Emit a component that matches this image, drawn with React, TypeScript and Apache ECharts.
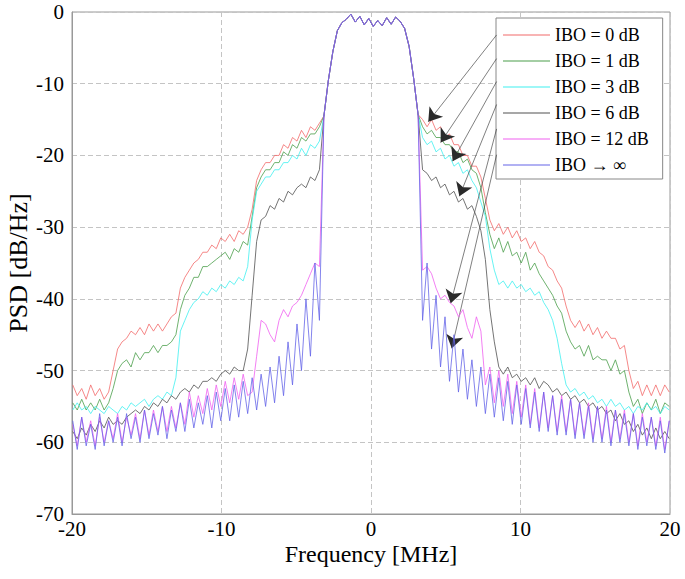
import React, { useEffect, useRef } from "react";
import * as echarts from "echarts";

// Frequency sampling grid (MHz)
const freq = [
  -19.95, -19.65, -19.35, -19.05, -18.75, -18.45, -18.15, -17.85, -17.55, -17.25,
  -16.95, -16.65, -16.35, -16.05, -15.75, -15.45, -15.15, -14.85, -14.55, -14.25,
  -13.95, -13.65, -13.35, -13.05, -12.75, -12.45, -12.15, -11.85, -11.55, -11.25,
  -10.95, -10.65, -10.35, -10.05, -9.75, -9.45, -9.15, -8.85, -8.55, -8.25,
  -7.95, -7.65, -7.35, -7.05, -6.75, -6.45, -6.15, -5.85, -5.55, -5.25,
  -4.95, -4.65, -4.35, -4.05, -3.75, -3.45,
  -3.15, -2.85, -2.55, -2.25, -1.95, -1.65, -1.35, -1.05, -0.75, -0.45, -0.15,
  0.15, 0.45, 0.75, 1.05, 1.35, 1.65, 1.95, 2.25, 2.55, 2.85, 3.15,
  3.45, 3.75, 4.05, 4.35, 4.65, 4.95, 5.25, 5.55, 5.85, 6.15,
  6.45, 6.75, 7.05, 7.35, 7.65, 7.95, 8.25, 8.55, 8.85, 9.15,
  9.45, 9.75, 10.05, 10.35, 10.65, 10.95, 11.25, 11.55, 11.85, 12.15,
  12.45, 12.75, 13.05, 13.35, 13.65, 13.95, 14.25, 14.55, 14.85, 15.15,
  15.45, 15.75, 16.05, 16.35, 16.65, 16.95, 17.25, 17.55, 17.85, 18.15,
  18.45, 18.75, 19.05, 19.35, 19.65, 19.95,
];

// Shared main lobe (-3.15 .. 3.15 MHz), dB/Hz
const mainLobe = [
  -14.5, -9.5, -5.5, -2.6, -1.5, -1.0, -0.3, -1.4, -0.6, -1.8, -0.9,
  -2.0, -1.2, -1.9, -0.8, -1.7, -0.7, -1.3, -2.3, -4.8, -9.2, -14.3,
];

// IBO = 0 dB
const redLeft = [
  -52, -53.5, -52.5, -54, -52, -53.5, -52.5, -54, -53, -50,
  -47, -46, -45.5, -44.5, -45, -44, -45, -43.5, -44.5, -43.5,
  -44.5, -43.5, -42.5, -42, -38.5, -37, -36, -35, -34.5, -33.5,
  -33.5, -32.5, -33, -31.5, -32, -31, -32, -30.5, -31, -30,
  -27.5, -23.5, -22, -21, -21, -20, -20, -18.5, -19, -17.5,
  -18, -16.5, -17.5, -16, -16.5, -15.5,
];
const redRight = [
  -15, -16, -15, -16.5, -16, -17.5, -17, -18.5, -18.5, -20,
  -20, -21.5, -21.5, -23, -26, -29, -30.5, -29.5, -31, -30,
  -31.5, -30.5, -32, -31.5, -33, -32, -33.5, -34, -35.5, -36,
  -37.5, -38.5, -41, -43, -44, -43, -44.5, -43.5, -45, -44,
  -45.5, -44.5, -45.5, -45.5, -47, -46.5, -50, -52.5, -51.5, -53.5,
  -52, -53.5, -52, -53.5, -52, -53,
];

// IBO = 1 dB
const greenLeft = [
  -54.5, -55.5, -54, -55.5, -54.5, -55.5, -54, -55.5, -54.5, -52.5,
  -50, -49, -48.5, -49.5, -47.5, -48.5, -47.5, -47.5, -46.5, -47.5,
  -46.5, -46.5, -46, -45, -41.5, -39.5, -38.5, -37, -37, -35.5,
  -35.5, -35, -34.5, -34, -33.5, -34.5, -33, -33.5, -32, -32.5,
  -28.5, -24.5, -23, -22, -22, -21, -21, -19.5, -20, -18.5,
  -19, -17.5, -18, -17, -17, -16,
];
const greenRight = [
  -16, -17, -16.5, -17.5, -17.5, -18.5, -18.5, -19.5, -19.5, -21,
  -20.5, -22, -22.5, -24.5, -28, -31, -33, -31.5, -33.5, -32,
  -34, -33.5, -35, -33.5, -36, -35, -36.5, -37.5, -38.5, -39.5,
  -41, -42, -44.5, -46, -47, -46.5, -48, -46.5, -48.5, -48,
  -48.5, -48.5, -50, -48.5, -50.5, -50, -53, -55, -54, -56,
  -54.5, -55.5, -54, -56, -54.5, -55,
];

// IBO = 3 dB
const cyanLeft = [
  -55.5, -54.5, -55.5, -55, -56, -55, -55.5, -56, -55, -55.5,
  -56, -55, -55.5, -54.5, -55, -54.5, -54, -55, -54, -53.5,
  -54, -53, -53.5, -51, -44.5, -43, -41.5, -40.5, -40, -39,
  -39.5, -38.5, -39, -38, -38.5, -37.5, -38, -37, -37.5, -35.5,
  -29, -25, -24, -23, -23, -22, -22, -21, -21, -20,
  -20.5, -19, -20, -18.5, -19, -18,
];
const cyanRight = [
  -17.5, -18.5, -18, -19.5, -19, -20.5, -20, -21.5, -21, -22.5,
  -22, -23.5, -24.5, -26.5, -28.5, -33, -36, -38, -37.5, -38.5,
  -37.5, -38.5, -38, -39, -38.5, -39.5, -39, -40.5, -41.5, -43,
  -45.5, -49, -52, -53, -52.5, -53.5, -53, -54, -53.5, -54.5,
  -54, -55, -54, -55, -54.5, -55.5, -55, -56, -55, -55.5,
  -54.5, -55.5, -55, -56, -55, -55.5,
];

// IBO = 6 dB
const blackLeft = [
  -58.5, -59.5, -58, -59, -57.5, -58.5, -57, -58, -56.5, -57.5,
  -57, -57.5, -56.5, -56, -55.5, -56, -55, -55.5, -54.5, -55,
  -54, -54.5, -53.5, -54, -53, -52.5, -53, -52, -52.5, -51.5,
  -51.5, -51, -51.5, -50.5, -50, -50.5, -49.5, -50, -50, -47,
  -39.5, -32, -29, -28.5, -27, -27.5, -26, -26.5, -25, -25.5,
  -24.5, -24, -24.5, -23, -23.5, -22,
];
const blackRight = [
  -22, -22.5, -23.5, -23, -24.5, -24, -25.5, -25, -26.5, -26,
  -27.5, -27, -28.5, -30.5, -34.5, -41.5, -46, -49.5, -50.5, -49.5,
  -51, -50.5, -51.5, -51, -52, -51, -52.5, -51.5, -52, -53,
  -52.5, -53.5, -53, -54, -53.5, -54.5, -54, -55, -54.5, -55.5,
  -55, -56, -55.5, -57, -56, -57.5, -57, -58.5, -57.5, -59,
  -58, -59.5, -58, -59.5, -58.5, -59.5,
];

// IBO = 12 dB
const magentaLeft = [
  -57.5, -60.5, -56.5, -60, -57, -60.5, -56.5, -60, -57, -59.5,
  -56, -60, -56.5, -59, -56, -59.5, -55.5, -59, -55.5, -58.5,
  -55, -58.5, -55, -58, -54.5, -57.5, -53, -56.5, -53.5, -56,
  -52.5, -55.5, -52, -55, -51.5, -54.5, -51, -54, -50.5, -53.5,
  -53, -48, -43, -43.5, -45, -46, -43, -41.5, -42.5, -41,
  -40.5, -39.5, -38, -36.5, -35, -35.5,
];
const magentaRight = [
  -36, -35.5, -36.5, -38.5, -40, -39.5, -40.5, -41, -42.5, -41.5,
  -44, -45.5, -42.5, -44.5, -52, -49.5, -54.5, -50, -55, -50.5,
  -56, -51.5, -56.5, -52, -57.5, -52.5, -58, -53, -58, -53.5,
  -58.5, -53.5, -58.5, -54, -59, -54.5, -59, -54.5, -59.5, -55,
  -59.5, -55, -60, -55.5, -59.5, -55.5, -60, -56, -60.5, -56,
  -60, -56.5, -60.5, -56.5, -61, -57,
];

// IBO -> infinity
const blueLeft = [
  -57, -61, -56.5, -60.5, -57.5, -61, -56, -60.5, -57, -60,
  -56.5, -60.5, -56, -59.5, -56.5, -60, -55.5, -59.5, -56, -59,
  -55, -59.5, -55.5, -58.5, -54.5, -58.5, -54, -58, -54.5, -57.5,
  -53.5, -58, -53, -57, -52.5, -57, -52, -56.5, -51.5, -56,
  -51, -55.5, -50.5, -55, -49.5, -54.5, -48, -53.5, -46, -52,
  -43.5, -50, -40, -48, -35, -43,
];
const blueRight = [
  -43, -35, -47, -39.5, -49.5, -42.5, -51.5, -45, -53, -47,
  -54, -48.5, -55, -49.5, -56, -50.5, -56.5, -51, -57, -51.5,
  -57.5, -52, -57.5, -52.5, -58, -53, -58.5, -53, -58.5, -53.5,
  -59, -54, -59, -54, -59.5, -54.5, -59.5, -55, -60, -55,
  -60, -55.5, -60.5, -55.5, -60, -56, -60.5, -56, -61, -56.5,
  -60.5, -56.5, -61, -57, -61.5, -57,
];

const seriesNames = ["IBO = 0 dB", "IBO = 1 dB", "IBO = 3 dB", "IBO = 6 dB", "IBO = 12 dB", "IBO \u2192 \u221e"];
const seriesColors = ["#f26a6a", "#4a9e4a", "#3ff0f0", "#505050", "#f060f0", "#6464e8"];
const seriesLeft = [redLeft, greenLeft, cyanLeft, blackLeft, magentaLeft, blueLeft];
const seriesRight = [redRight, greenRight, cyanRight, blackRight, magentaRight, blueRight];

// Annotation arrows (data coordinates): from legend edge to curve
const arrowFrom = [[8.4, -3.2], [8.4, -6.5], [8.4, -9.7], [8.4, -12.9], [8.4, -16.3], [8.4, -19.9]];
const arrowTo = [[3.83, -15.3], [4.66, -18.2], [5.46, -20.8], [5.91, -25.7], [5.33, -40.6], [5.4, -46.9]];

const FONT = "'Liberation Serif', 'Times New Roman', serif";

function buildData(left: number[], right: number[]) {
  const ys = [...left, ...mainLobe, ...right];
  return freq.map((f, i) => [f, ys[i]]);
}

export default function App() {
  const ref = useRef<HTMLDivElement>(null);
  useEffect(() => {
    if (!ref.current) return;
    const chart = echarts.init(ref.current, null, { renderer: "svg" });
    const series = seriesNames.map((name, i) => ({
      name,
      type: "line",
      data: buildData(seriesLeft[i], seriesRight[i]),
      symbol: "none",
      silent: true,
      lineStyle: { color: seriesColors[i], width: 0.8 },
      itemStyle: { color: seriesColors[i] },
      z: 2 + i,
      markLine: {
        silent: true,
        symbol: ["none", "arrow"],
        symbolSize: 13,
        label: { show: false },
        lineStyle: { color: "#2a2a2a", width: 0.6, type: "solid" },
        data: [[{ coord: arrowFrom[i] }, { coord: arrowTo[i] }]],
      },
    }));
    chart.setOption({
      animation: false,
      backgroundColor: "#fff",
      grid: {
        left: 72,
        right: 15,
        top: 12,
        bottom: 65,
        show: true,
        borderColor: "#999",
        borderWidth: 1,
        outerBoundsMode: "none",
        containLabel: false,
      },
      legend: {
        data: seriesNames,
        orient: "vertical",
        left: 496,
        top: 18,
        padding: [8, 14, 5, 7],
        itemGap: 8,
        itemWidth: 47,
        itemHeight: 14,
        icon: "path://M0,0H47V1H0Z",
        selectedMode: false,
        backgroundColor: "#fff",
        borderColor: "#888",
        borderWidth: 1,
        textStyle: { fontFamily: FONT, fontSize: 18, color: "#000" },
      },
      xAxis: {
        type: "value",
        min: -20,
        max: 20,
        interval: 10,
        name: "Frequency [MHz]",
        nameLocation: "middle",
        nameGap: 28,
        nameMoveOverlap: false,
        nameTextStyle: { fontFamily: FONT, fontSize: 24, color: "#000" },
        axisLine: { show: true, onZero: false, lineStyle: { color: "#999" } },
        axisTick: { show: false },
        axisLabel: { fontFamily: FONT, fontSize: 21, lineHeight: 20, color: "#000", margin: 5 },
        splitLine: { show: true, lineStyle: { color: "#c4c4c4", type: [5, 3], width: 1 } },
      },
      yAxis: {
        type: "value",
        min: -70,
        max: 0,
        interval: 10,
        name: "PSD [dB/Hz]",
        nameLocation: "middle",
        nameGap: 41,
        nameMoveOverlap: false,
        nameTextStyle: { fontFamily: FONT, fontSize: 26, lineHeight: 26, color: "#000" },
        axisLine: { show: true, onZero: false, lineStyle: { color: "#999" } },
        axisTick: { show: false },
        axisLabel: { fontFamily: FONT, fontSize: 21, lineHeight: 19, color: "#000", margin: 8 },
        splitLine: { show: true, lineStyle: { color: "#c4c4c4", type: [5, 3], width: 1 } },
      },
      series,
    });
    return () => chart.dispose();
  }, []);
  return (
    <div
      ref={ref}
      style={{ position: "fixed", left: 0, top: 0, width: 685, height: 579, background: "#fff" }}
    />
  );
}
